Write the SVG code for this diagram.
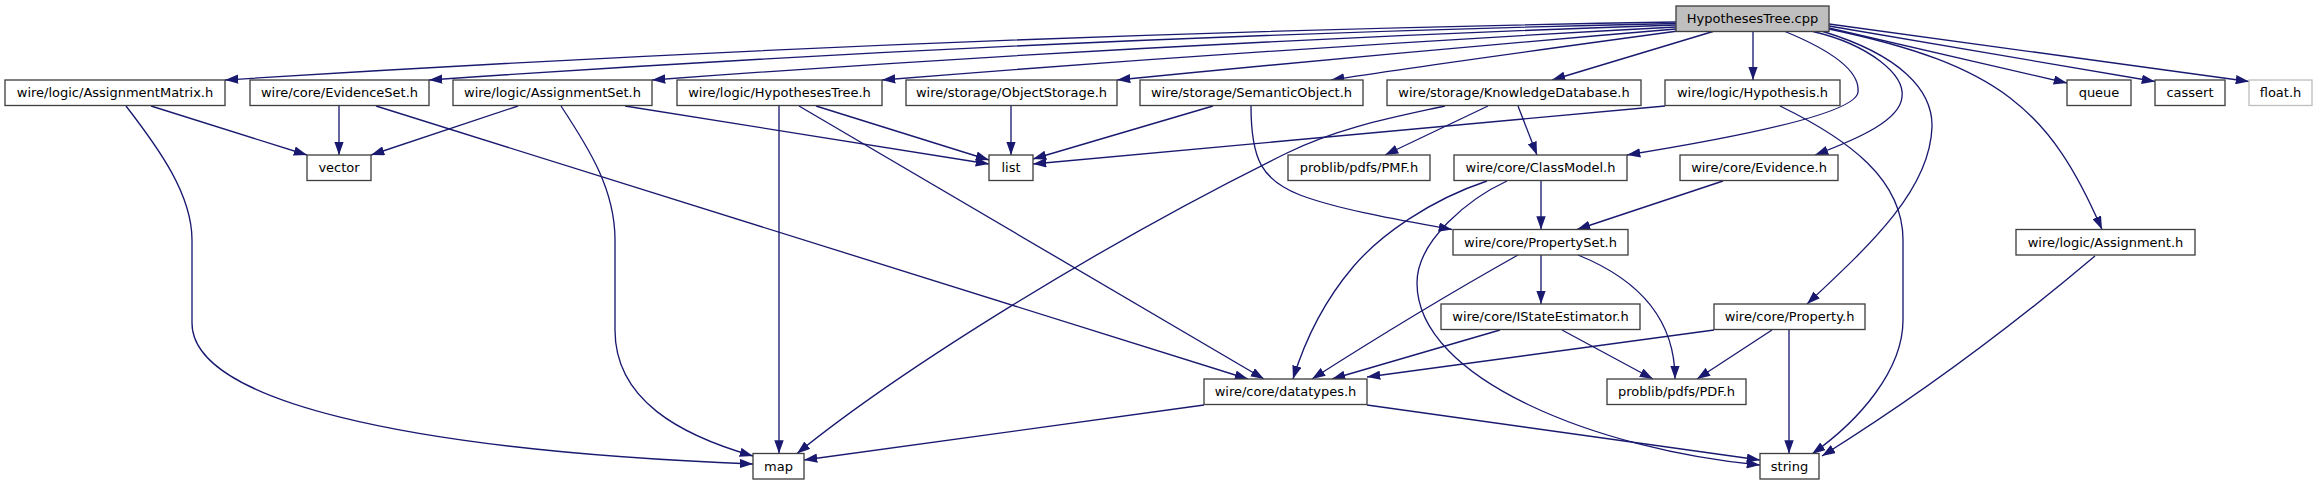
<svg xmlns="http://www.w3.org/2000/svg" width="2317" height="485" viewBox="0 0 2317 485">
<style>
.n rect{fill:#ffffff;stroke:#404040;stroke-width:1.33}
.n text{font-family:"DejaVu Sans",sans-serif;font-size:13px;fill:#000000;text-anchor:middle}
#n_cpp rect{fill:#bfbfbf}
#n_float rect{stroke:#bfbfbf}
.e path{fill:none;stroke:#191970;stroke-width:1.33;marker-end:url(#ah)}
</style>
<defs>
<marker id="ah" viewBox="0 0 13.3 9.4" refX="13.3" refY="4.7" markerWidth="13.3" markerHeight="9.4" markerUnits="userSpaceOnUse" orient="auto">
<path d="M0,0 L13.3,4.7 L0,9.4 z" fill="#191970"/>
</marker>
</defs>
<rect width="2317" height="485" fill="#ffffff"/>
<g class="e" id="connectors">
<path d="M1676,22 Q949.5,34.2 225,80"/>
<path d="M1676,23.5 Q1052.5,36.85 429,80"/>
<path d="M1676,25 Q1164,42.1 652,80"/>
<path d="M1676,27 Q1279,47.9 882,80"/>
<path d="M1676,29 Q1396,52.5 1117,80"/>
<path d="M1678,31 Q1420,66 1331,80"/>
<path d="M1713,31.5 L1552,80"/>
<path d="M1753,31.5 L1753,80"/>
<path d="M1785,31.5 C1835,52 1860,72 1858,92 C1856,115 1720,140 1627,155"/>
<path d="M1813,31.5 C1870,45 1905,75 1902,97 C1900,120 1860,138 1815,155"/>
<path d="M1823,31.5 C1900,55 1933,90 1932,127 C1930,190 1870,245 1807,304"/>
<path d="M1829,29 C2000,65 2050,110 2102,229.5"/>
<path d="M1829,28 L2067,83"/>
<path d="M1829,26 L2155,81.5"/>
<path d="M1829,24 L2249,81.5"/>
<path d="M1665,106 L1033,164"/>
<path d="M1780,106 C1850,140 1903,180 1903,240 L1903,320 C1903,370 1860,420 1812,454"/>
<path d="M1445,106 C1395,117 1340,127 1287,153 C1100,245 900,370 797,453.5"/>
<path d="M1488,106 L1385,155"/>
<path d="M1518,106 L1537,155"/>
<path d="M1213,106 L1033,159"/>
<path d="M1251,106 C1251,160 1262,180 1300,195 C1340,210 1400,220 1452,229.5"/>
<path d="M1011,106 L1011,155"/>
<path d="M816,106 L989,160"/>
<path d="M779,106 L779,453.5"/>
<path d="M799,106 L1264,379"/>
<path d="M518,106 L371,155"/>
<path d="M561,106 C590,150 615,190 615,240 L615,330 C615,400 680,435 753,456"/>
<path d="M625,106 L989,164"/>
<path d="M151,106 L307,155"/>
<path d="M126,106 C160,150 192,195 192,240 L192,323 C192,400 400,450 753,464"/>
<path d="M339,106 L339,155"/>
<path d="M376,106 L1248,379"/>
<path d="M1204,405 L804,460"/>
<path d="M1367,405 L1760,460"/>
<path d="M1541,181 L1541,229.5"/>
<path d="M1487,181 C1430,200 1380,235 1353,267 C1325,300 1305,340 1293,379"/>
<path d="M1507,181 C1470,198 1417,240 1417,283 C1417,380 1600,450 1760,465"/>
<path d="M1723,181 L1577,229.5"/>
<path d="M1541,255 L1541,304"/>
<path d="M1518,255 Q1420,310 1312,379"/>
<path d="M1578,255 C1640,280 1675,320 1675,379"/>
<path d="M1500,330 L1332,379"/>
<path d="M1562,330 L1653,379"/>
<path d="M1714,330 L1367,377"/>
<path d="M1772,330 L1697,379"/>
<path d="M1789,330 L1789,453.5"/>
<path d="M2095,256 Q1960,370 1822,456"/>
</g>
<g class="n" id="n_cpp"><rect x="1676" y="6" width="153" height="25.5"/><text x="1752.5" y="23">HypothesesTree.cpp</text></g>
<g class="n" id="n_am"><rect x="5" y="80" width="220" height="25.5"/><text x="115" y="97">wire/logic/AssignmentMatrix.h</text></g>
<g class="n" id="n_es"><rect x="250" y="80" width="179" height="25.5"/><text x="339.5" y="97">wire/core/EvidenceSet.h</text></g>
<g class="n" id="n_as"><rect x="453" y="80" width="199" height="25.5"/><text x="552.5" y="97">wire/logic/AssignmentSet.h</text></g>
<g class="n" id="n_ht"><rect x="677" y="80" width="205" height="25.5"/><text x="779.5" y="97">wire/logic/HypothesesTree.h</text></g>
<g class="n" id="n_os"><rect x="906" y="80" width="211" height="25.5"/><text x="1011.5" y="97">wire/storage/ObjectStorage.h</text></g>
<g class="n" id="n_so"><rect x="1140" y="80" width="223" height="25.5"/><text x="1251.5" y="97">wire/storage/SemanticObject.h</text></g>
<g class="n" id="n_kd"><rect x="1387" y="80" width="254" height="25.5"/><text x="1514" y="97">wire/storage/KnowledgeDatabase.h</text></g>
<g class="n" id="n_hyp"><rect x="1665" y="80" width="175" height="25.5"/><text x="1752.5" y="97">wire/logic/Hypothesis.h</text></g>
<g class="n" id="n_queue"><rect x="2067" y="80" width="64" height="25.5"/><text x="2099" y="97">queue</text></g>
<g class="n" id="n_cassert"><rect x="2155" y="80" width="70" height="25.5"/><text x="2190" y="97">cassert</text></g>
<g class="n" id="n_float"><rect x="2249" y="80" width="63" height="25.5"/><text x="2280.5" y="97">float.h</text></g>
<g class="n" id="n_vector"><rect x="307" y="155" width="64" height="25.5"/><text x="339" y="172">vector</text></g>
<g class="n" id="n_list"><rect x="989" y="155" width="44" height="25.5"/><text x="1011" y="172">list</text></g>
<g class="n" id="n_pmf"><rect x="1288" y="155" width="142" height="25.5"/><text x="1359" y="172">problib/pdfs/PMF.h</text></g>
<g class="n" id="n_cm"><rect x="1454" y="155" width="173" height="25.5"/><text x="1540.5" y="172">wire/core/ClassModel.h</text></g>
<g class="n" id="n_ev"><rect x="1680" y="155" width="158" height="25.5"/><text x="1759" y="172">wire/core/Evidence.h</text></g>
<g class="n" id="n_ps"><rect x="1453" y="229.5" width="175" height="25.5"/><text x="1540.5" y="246.5">wire/core/PropertySet.h</text></g>
<g class="n" id="n_asg"><rect x="2016" y="229.5" width="179" height="25.5"/><text x="2105.5" y="246.5">wire/logic/Assignment.h</text></g>
<g class="n" id="n_ise"><rect x="1441" y="304" width="199" height="25.5"/><text x="1540.5" y="321">wire/core/IStateEstimator.h</text></g>
<g class="n" id="n_prop"><rect x="1714" y="304" width="151" height="25.5"/><text x="1789.5" y="321">wire/core/Property.h</text></g>
<g class="n" id="n_dt"><rect x="1204" y="379" width="163" height="25.5"/><text x="1285.5" y="396">wire/core/datatypes.h</text></g>
<g class="n" id="n_pdf"><rect x="1607" y="379" width="139" height="25.5"/><text x="1676.5" y="396">problib/pdfs/PDF.h</text></g>
<g class="n" id="n_map"><rect x="753" y="453.5" width="51" height="25.5"/><text x="778.5" y="470.5">map</text></g>
<g class="n" id="n_string"><rect x="1760" y="453.5" width="59" height="25.5"/><text x="1789.5" y="470.5">string</text></g>
</svg>
